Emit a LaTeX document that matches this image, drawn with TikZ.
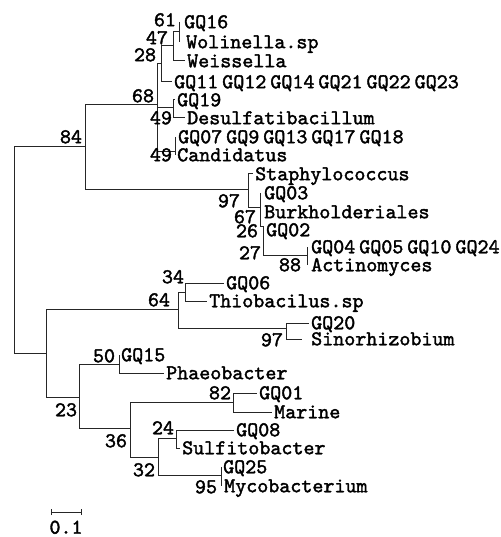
\documentclass[tikz,border=0pt]{standalone}
\usepackage{fontspec}
\usetikzlibrary{positioning}
\newfontfamily\treefam[FakeBold=1.8]{lmmono10-regular.otf}
\newcommand{\treefont}{\treefam\fontsize{21}{21}\selectfont\spaceskip=4pt\relax}

\begin{document}
\begin{tikzpicture}[
  x=1pt, y=-1pt,
  every node/.style={font=\treefont, inner sep=0pt, text height=12.5pt, text depth=0pt},
  leaf/.style={anchor=west, inner xsep=2pt},
  boot/.style={anchor=center},
  branch/.style={line width=1pt, color=black!85},
]
\useasboundingbox (0,0) rectangle (500,537);
% ---- leaves, top to bottom ----
\node[leaf] at (182,22)  (gq16)    {GQ16};
\node[leaf] at (184,42)  (woli)    {Wolinella.sp};
\node[leaf] at (185,61)  (weis)    {Weissella};
\node[leaf] at (172,82)  (gq11)    {GQ11 GQ12 GQ14 GQ21 GQ22 GQ23};
\node[leaf] at (175,100) (gq19)    {GQ19};
\node[leaf] at (185,118) (desu)    {Desulfatibacillum};
\node[leaf] at (176,137) (gq07)    {GQ07 GQ9 GQ13 GQ17 GQ18};
\node[leaf] at (175,155) (cand)    {Candidatus};
\node[leaf] at (253,174) (stap)    {Staphylococcus};
\node[leaf] at (262,193) (gq03)    {GQ03};
\node[leaf] at (262,212) (burk)    {Burkholderiales};
\node[leaf] at (264,230) (gq02)    {GQ02};
\node[leaf] at (309,247) (gq04)    {GQ04 GQ05 GQ10 GQ24};
\node[leaf] at (309,265) (acti)    {Actinomyces};
\node[leaf] at (224,283) (gq06)    {GQ06};
\node[leaf] at (207,301) (thio)    {Thiobacilus.sp};
\node[leaf] at (309,323) (gq20)    {GQ20};
\node[leaf] at (309,339) (sino)    {Sinorhizobium};
\node[leaf] at (119,355) (gq15)    {GQ15};
\node[leaf] at (164,373) (phae)    {Phaeobacter};
\node[leaf] at (257,393) (gq01)    {GQ01};
\node[leaf] at (272,412) (mari)    {Marine};
\node[leaf] at (234,430) (gq08)    {GQ08};
\node[leaf] at (180,448) (sulf)    {Sulfitobacter};
\node[leaf] at (221,467) (gq25)    {GQ25};
\node[leaf] at (222,486) (myco)    {Mycobacterium};
% ---- internal nodes ----
\coordinate (root) at (14,250);
\coordinate (n84)  at (85,147);
\coordinate (n68)  at (157,105);
\coordinate (n28)  at (161,64);
\coordinate (n47)  at (173,46);
\coordinate (n61)  at (179,32);
\coordinate (n49a) at (173,108);
\coordinate (n49b) at (175,152);
\coordinate (n97a) at (248,190);
\coordinate (n67)  at (260,207);
\coordinate (n27)  at (263,226);
\coordinate (n88)  at (307,255);
\coordinate (nlow) at (46,353);
\coordinate (n64)  at (178,309);
\coordinate (n34)  at (185,292);
\coordinate (n97b) at (286,328);
\coordinate (n23)  at (79,397);
\coordinate (n50)  at (119,364);
\coordinate (n36)  at (130,428);
\coordinate (n82)  at (233,402);
\coordinate (n32)  at (158,457);
\coordinate (n24)  at (176,438);
\coordinate (n95)  at (221,475);
% ---- branches ----
\draw[branch] (root) |- (n84);
\draw[branch] (root) |- (nlow);
\draw[branch] (n84) |- (n68);
\draw[branch] (n84) |- (n97a);
\draw[branch] (n68) |- (n28);
\draw[branch] (n68) |- (n49a);
\draw[branch] (n68) |- (n49b);
\draw[branch] (n28) |- (n47);
\draw[branch] (n28) |- (gq11.west);
\draw[branch] (n47) |- (n61);
\draw[branch] (n47) |- (weis.west);
\draw[branch] (n61 |- gq16.west) -- (n61 |- woli.west);
\draw[branch] (n49a) |- (gq19.west);
\draw[branch] (n49a) |- (desu.west);
\draw[branch] (n49b |- gq07.west) -- (n49b |- cand.west);
\draw[branch] (n97a) |- (stap.west);
\draw[branch] (n97a) |- (n67);
\draw[branch] (n67 |- gq03.west) -- (n67 |- n27) -- (n27);
\draw[branch] (n27) |- (n88);
\draw[branch] (n88 |- gq04.west) -- (n88 |- acti.west);
\draw[branch] (nlow) |- (n64);
\draw[branch] (nlow) |- (n23);
\draw[branch] (n64) |- (n34);
\draw[branch] (n64) |- (n97b);
\draw[branch] (n34) |- (gq06.west);
\draw[branch] (n34) |- (thio.west);
\draw[branch] (n97b) |- (gq20.west);
\draw[branch] (n97b) |- ([xshift=-7pt]sino.west);
\draw[branch] (n23) |- (n50);
\draw[branch] (n23) |- (n36);
\draw[branch] (n50) |- (gq15.west);
\draw[branch] (n50) |- (phae.west);
\draw[branch] (n36) |- (n82);
\draw[branch] (n36) |- (n32);
\draw[branch] (n82) |- (gq01.west);
\draw[branch] (n82) |- (mari.west);
\draw[branch] (n32) |- (n24);
\draw[branch] (n32) |- (n95);
\draw[branch] (n24) |- (gq08.west);
\draw[branch] (n24) |- (sulf.west);
\draw[branch] (n95 |- gq25.west) -- (n95 |- myco.west);
% ---- bootstrap values ----
\node[boot] at (165,20)  (b61)  {61};
\node[boot] at (157,38)  (b47)  {47};
\node[boot] at (145,55)  (b28)  {28};
\node[boot] at (143,96)  (b68)  {68};
\node[boot] at (71,137)  (b84)  {84};
\node[boot] at (161,118) (b49a) {49};
\node[boot] at (161,155) (b49b) {49};
\node[boot] at (229,201) (b97a) {97};
\node[boot] at (245,217) (b67)  {67};
\node[boot] at (247,231) (b26)  {26};
\node[boot] at (250,253) (b27)  {27};
\node[boot] at (290,265) (b88)  {88};
\node[boot] at (173,277) (b34)  {34};
\node[boot] at (159,300) (b64)  {64};
\node[boot] at (272,340) (b97b) {97};
\node[boot] at (104,356) (b50)  {50};
\node[boot] at (66,410)  (b23)  {23};
\node[boot] at (220,393) (b82)  {82};
\node[boot] at (116,441) (b36)  {36};
\node[boot] at (163,428) (b24)  {24};
\node[boot] at (144,470) (b32)  {32};
\node[boot] at (206,487) (b95)  {95};
% ---- scale bar ----
\coordinate (sbl) at (51,512);
\coordinate (sbr) at (81,512);
\draw[branch] (sbl) -- (sbr);
\draw[branch] ([yshift=-3pt]sbl) -- ([yshift=3pt]sbl);
\draw[branch] ([yshift=-3pt]sbr) -- ([yshift=3pt]sbr);
\node[boot, below=9pt of sbl, xshift=15pt] (sbtext) {0.1};
\end{tikzpicture}
\end{document}
